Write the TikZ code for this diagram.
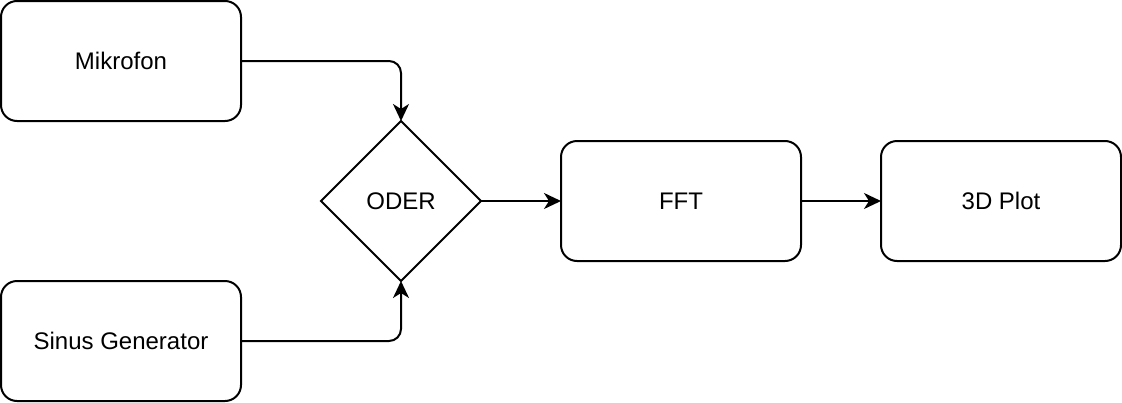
\documentclass[tikz,border=0pt]{standalone}
\usepackage{fontspec}
\setmainfont{Liberation Sans}
\usetikzlibrary{shapes.geometric,arrows.meta}
\begin{document}
\begin{tikzpicture}[x=1pt,y=-1pt,
  box/.style={draw=black,line width=2pt,rounded corners=16pt,minimum width=240pt,minimum height=120pt,inner sep=0pt,outer sep=0pt,font=\fontsize{24pt}{28pt}\selectfont},
  gate/.style={draw=black,line width=2pt,diamond,aspect=1,minimum width=160pt,minimum height=160pt,inner sep=0pt,outer sep=0pt,font=\fontsize{24pt}{28pt}\selectfont},
  conn/.style={draw=black,line width=2pt,rounded corners=12pt,-{Stealth[length=17pt,width=16pt,inset=5pt]}}]
\useasboundingbox (0,0) rectangle (1122,402);
\node[box] (mik) at (121,61) {Mikrofon};
\node[box] (sin) at (121,341) {Sinus Generator};
\node[gate] (oder) at (401,201) {ODER};
\node[box] (fft) at (681,201) {FFT};
\node[box] (plot) at (1001,201) {3D Plot};
\draw[conn] (mik.east) -| (oder.north);
\draw[conn] (sin.east) -| (oder.south);
\draw[conn] (oder.east) -- (fft.west);
\draw[conn] (fft.east) -- (plot.west);
\end{tikzpicture}
\end{document}
